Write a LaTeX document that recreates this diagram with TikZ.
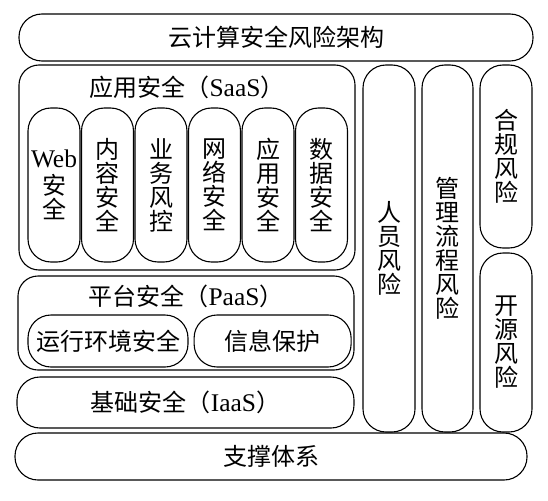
\documentclass[tikz,border=0pt]{standalone}
\usepackage{fontspec}
\setmainfont{Liberation Serif}
\newfontfamily\cjk{Noto Sans CJK SC}
\newfontfamily\lat[Scale=1.06]{Liberation Serif}
\usetikzlibrary{positioning}
\tikzset{
  box/.style={draw, line width=1.1pt, inner sep=0pt, align=center,
    font=\cjk\fontsize{24}{24}\selectfont},
  layer/.style={box, rounded corners=20pt},
  pill/.style={box, rounded corners=23pt},
  col/.style={pill, minimum width=52pt, minimum height=154pt},
  txt/.style={inner sep=0pt, font=\cjk\fontsize{24}{24}\selectfont}
}
\begin{document}
\begin{tikzpicture}[x=1pt,y=-1pt,node distance=53.5pt]
    \useasboundingbox (0,0) rectangle (548,500);

    \node (title) [pill, minimum width=514pt, minimum height=47pt] at (276,37.5) {云计算安全风险架构};

    % SaaS
    \node (saas) [layer, minimum width=336pt, minimum height=205pt] at (187,167.5) {};
    \node (saast) [txt, below=11pt of saas.north] {应用安全（{\lat SaaS}）};
    \node (web) [col] at (54,185) {{\lat Web}\\[3pt]安\\全};
    \node (neirong) [col, right of=web] {内\\容\\安\\全};
    \node (yewu) [col, right of=neirong] {业\\务\\风\\控};
    \node (wangluo) [col, right of=yewu] {网\\络\\安\\全};
    \node (yingyong) [col, right of=wangluo] {应\\用\\安\\全};
    \node (shuju) [col, right of=yingyong] {数\\据\\安\\全};

    % PaaS
    \node (paas) [layer, minimum width=336pt, minimum height=94pt] at (186,323) {};
    \node (paast) [txt, below=9pt of paas.north] {平台安全（{\lat PaaS}）};
    \node (yunxing) [pill, minimum width=160pt, minimum height=52pt] at (108,341) {运行环境安全};
    \node (xinxi) [pill, minimum width=157pt, minimum height=52pt, right=5pt of yunxing] {信息保护};

    % IaaS
    \node (iaas) [pill, minimum width=337pt, minimum height=51pt] at (185.5,402.5) {基础安全（{\lat IaaS}）};
    \node (zhicheng) [pill, minimum width=512pt, minimum height=47pt] at (271,456.5) {支撑体系};

    % right side
    \node (renyuan) [pill, minimum width=52pt, minimum height=367pt] at (389,248.5) {人\\员\\风\\险};
    \node (guanli) [pill, minimum width=51pt, minimum height=367pt] at (447.5,248.5) {管\\理\\流\\程\\风\\险};
    \node (hegui) [pill, minimum width=52pt, minimum height=183pt] at (506,156.5) {合\\规\\风\\险};
    \node (kaiyuan) [pill, minimum width=52pt, minimum height=179pt] at (506,342.5) {开\\源\\风\\险};
\end{tikzpicture}
\end{document}
